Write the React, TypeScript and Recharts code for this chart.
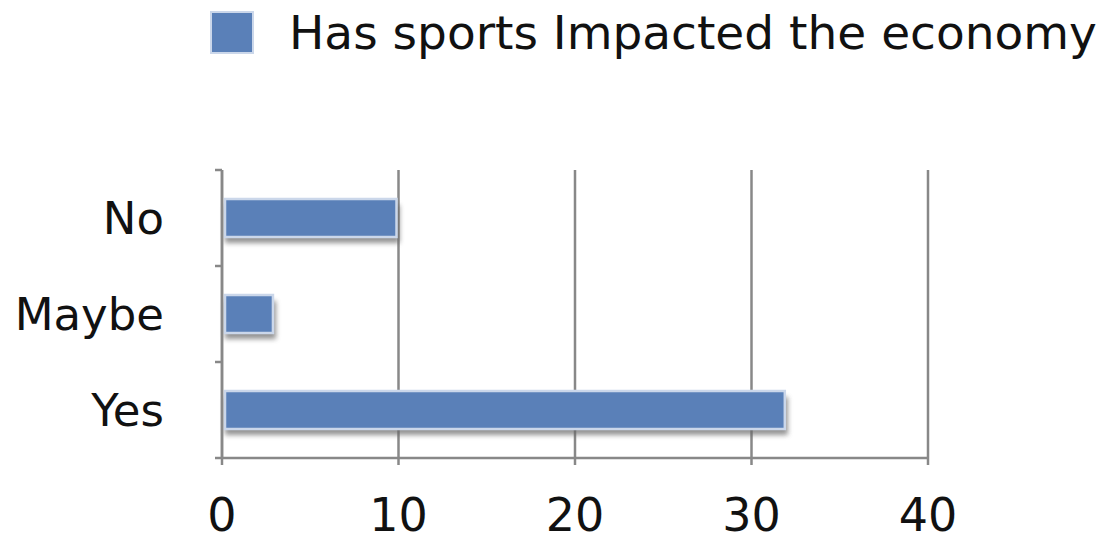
import React from 'react';
import { BarChart, Bar, XAxis, YAxis, CartesianGrid, Legend } from 'recharts';

const categories = ['No', 'Maybe', 'Yes'];
const impactValues = [10, 3, 32];
const xTicks = [0, 10, 20, 30, 40];
const seriesName = 'Has sports Impacted the economy';

const data = categories.map((name, i) => ({ name, value: impactValues[i] }));

const BAR_FILL = '#5a80b8';
const AXIS_GRAY = '#888888';
const FONT = '"DejaVu Sans", Verdana, sans-serif';
const CAT_MARGIN = 58;

// bar with soft shadow underneath and a pale border, like the old office charts
const ShadowBar = (props: any) => {
  const { x, y, width, height } = props;
  if (!width || width <= 0) return null;
  return (
    <g>
      <defs>
        <filter id="barShadow" x="-10%" y="-50%" width="120%" height="200%">
          <feGaussianBlur stdDeviation="2.5" />
        </filter>
      </defs>
      <rect x={x + 3} y={y + 6} width={width - 2} height={height} fill="#666" opacity={0.7} filter="url(#barShadow)" />
      <rect x={x + 3} y={y} width={width - 5} height={height} fill={BAR_FILL} stroke="#cbd7ea" strokeWidth={2.5} />
    </g>
  );
};

// category label + small tick marks on the band edges (not the band centres)
const CategoryTick = (props: any) => {
  const { x, y, payload, index, visibleTicksCount } = props;
  const half = payload && payload.offset ? payload.offset : 48;
  const axisX = x + CAT_MARGIN;
  const isLast = index === (visibleTicksCount ?? categories.length) - 1;
  return (
    <g>
      <line x1={axisX - 7} x2={axisX} y1={y - half} y2={y - half} stroke={AXIS_GRAY} strokeWidth={2.5} />
      {isLast && (
        <line x1={axisX - 7} x2={axisX} y1={y + half} y2={y + half} stroke={AXIS_GRAY} strokeWidth={2.5} />
      )}
      <text x={x} y={y} dy="0.355em" textAnchor="end" fill="#111" fontSize={45} fontFamily={FONT}>
        {payload.value}
      </text>
    </g>
  );
};

const LegendBox = () => (
  <div style={{ position: 'relative', width: 1117, height: 60 }}>
    <div
      style={{
        position: 'absolute',
        left: 210,
        top: 11,
        width: 40,
        height: 39,
        background: BAR_FILL,
        border: '2px solid #cbd7ea',
      }}
    />
    <span
      style={{
        position: 'absolute',
        left: 289,
        top: 3,
        fontFamily: FONT,
        fontSize: 47,
        color: '#111',
        whiteSpace: 'nowrap',
        lineHeight: '60px',
      }}
    >
      {seriesName}
    </span>
  </div>
);

export default function App() {
  return (
    <div style={{ position: 'absolute', left: 0, top: 0, width: 1117, height: 538, background: '#fff' }}>
      <BarChart
        width={1117}
        height={538}
        data={data}
        layout="vertical"
        margin={{ top: 170, right: 189, bottom: 0, left: 0 }}
      >
        <CartesianGrid yAxisId="cat" horizontal={false} stroke={AXIS_GRAY} strokeWidth={2.5} />
        <XAxis
          type="number"
          domain={[0, 40]}
          ticks={xTicks}
          interval={0}
          height={80}
          tickSize={7}
          tickMargin={33}
          stroke={AXIS_GRAY}
          strokeWidth={2.5}
          tick={{ fill: '#111', fontSize: 46, fontFamily: FONT }}
        />
        <YAxis
          yAxisId="cat"
          type="category"
          dataKey="name"
          width={222}
          interval={0}
          axisLine={{ stroke: AXIS_GRAY, strokeWidth: 2.5 }}
          tickLine={false}
          tickSize={0}
          tickMargin={CAT_MARGIN}
          tick={<CategoryTick />}
        />
        <Legend
          layout="horizontal"
          verticalAlign="middle"
          align="center"
          wrapperStyle={{ position: 'absolute', left: 0, top: 0, width: 1117 }}
          content={() => <LegendBox />}
        />
        <Bar
          yAxisId="cat"
          dataKey="value"
          name={seriesName}
          barSize={38}
          shape={ShadowBar}
          isAnimationActive={false}
        />
      </BarChart>
    </div>
  );
}
